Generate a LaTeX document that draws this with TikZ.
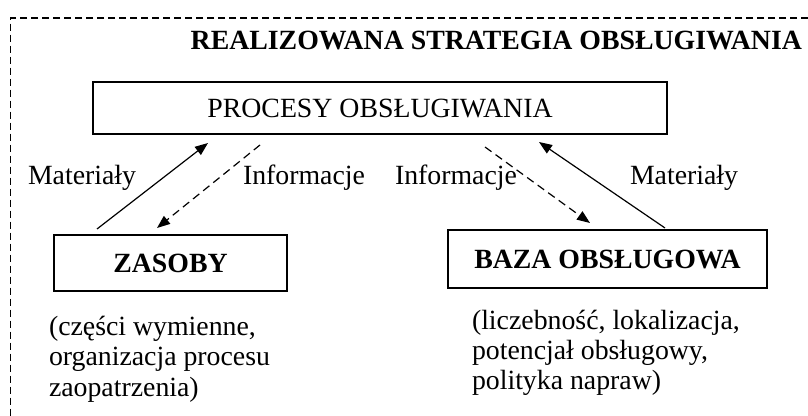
\documentclass[tikz,border=0pt]{standalone}
\usepackage{fontspec}
\setmainfont{Liberation Serif}
\usetikzlibrary{arrows.meta}
\begin{document}
\begin{tikzpicture}[x=0.5pt,y=-0.5pt,
  every node/.style={font=\fontsize{13.9}{15}\selectfont, inner sep=0pt, outer sep=0pt},
  box/.style={draw, line width=0.75pt, text height=9.2pt, text depth=0pt},
  label/.style={anchor=base west},
  flow/.style={line width=0.6pt, -{Triangle[length=6.5pt,width=5pt]}},
  info/.style={flow, dash pattern=on 4pt off 2.5pt},
  frame/.style={line width=0.65pt, dash pattern=on 3.5pt off 2pt}
]
\useasboundingbox (0,0) rectangle (808,416);

% outer dashed frame (open towards the right and bottom)
\coordinate (frTR) at (808,18);
\coordinate (frTL) at (10.7,18);
\coordinate (frBL) at (10.7,416);
\draw[frame] (frTR) -- (frTL) -- (frBL);

% title
\node[label] (title) at (190.7,50) {\bfseries REALIZOWANA STRATEGIA OBSŁUGIWANIA};

% boxes
\node[box, minimum width=287pt, minimum height=26pt] (proc) at (380,108) {PROCESY OBSŁUGIWANIA};
\node[box, minimum width=116.5pt, minimum height=28pt] (zas) at (170.5,263) {\bfseries ZASOBY};
\node[box, minimum width=159.5pt, minimum height=29pt] (baza) at (607.5,259) {\bfseries BAZA OBSŁUGOWA};

% flow labels
\node[label] (mat1) at (28,185) {Materiały};
\node[label] (inf1) at (243,185) {Informacje};
\node[label] (inf2) at (395,185) {Informacje};
\node[label] (mat2) at (630,185) {Materiały};

% descriptions (baseline of the first line at the node position)
\node[label] (zasnote) at (49,336)
  {\begin{tabular}[t]{@{}l@{}}(części wymienne,\\organizacja procesu\\zaopatrzenia)\end{tabular}};
\node[label] (bazanote) at (472,330)
  {\begin{tabular}[t]{@{}l@{}}(liczebność, lokalizacja,\\potencjał obsługowy,\\polityka napraw)\end{tabular}};

% arrow end points
\coordinate (m1s) at (97,229);
\coordinate (m1e) at (208,143);
\coordinate (i1s) at (260,145);
\coordinate (i1e) at (157,228);
\coordinate (i2s) at (485,147);
\coordinate (i2e) at (590,223);
\coordinate (m2s) at (665,228);
\coordinate (m2e) at (539,142);

\draw[flow] (m1s) -- (m1e);
\draw[info] (i1s) -- (i1e);
\draw[info] (i2s) -- (i2e);
\draw[flow] (m2s) -- (m2e);
\end{tikzpicture}
\end{document}
